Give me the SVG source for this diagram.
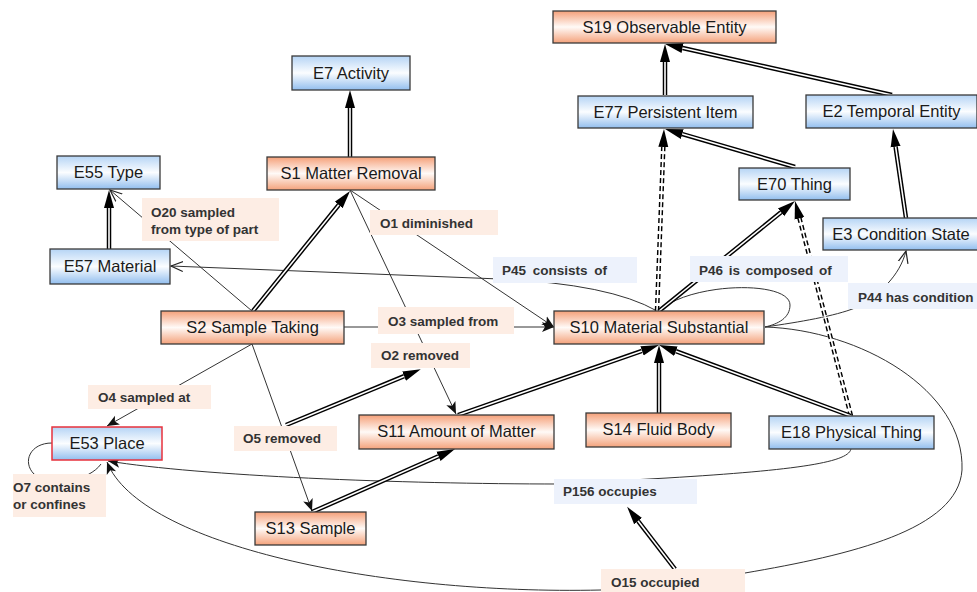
<svg xmlns="http://www.w3.org/2000/svg" width="977" height="592" viewBox="0 0 977 592">
<defs>
<linearGradient id="gBlue" x1="0" y1="0" x2="0" y2="1">
<stop offset="0" stop-color="#b5d4f5"/><stop offset="0.5" stop-color="#fbfdff"/><stop offset="1" stop-color="#92beee"/>
</linearGradient>
<linearGradient id="gOr" x1="0" y1="0" x2="0" y2="1">
<stop offset="0" stop-color="#f5a079"/><stop offset="0.5" stop-color="#fffaf7"/><stop offset="1" stop-color="#f4a27b"/>
</linearGradient>
<marker id="fa" markerUnits="userSpaceOnUse" markerWidth="20" markerHeight="12" viewBox="0 -6 20 12" refX="0" refY="0" orient="auto">
<path d="M0,-5 L18,0 L0,5 z" fill="#000"/>
</marker>
<marker id="ba" markerUnits="userSpaceOnUse" markerWidth="14" markerHeight="12" viewBox="0 -6 14 12" refX="12" refY="0" orient="auto">
<path d="M0,-5 L12,0 L0,5 L3,0 z" fill="#111"/>
</marker>
<marker id="oa" markerUnits="userSpaceOnUse" markerWidth="14" markerHeight="12" viewBox="0 -6 14 12" refX="12" refY="0" orient="auto">
<path d="M0,-5 L12,0 L0,5" fill="none" stroke="#222" stroke-width="1.2"/>
</marker>
</defs>
<style>
.nb rect{fill:url(#gBlue);stroke:#3a3a3a;stroke-width:1.3}
.no rect{fill:url(#gOr);stroke:#3a3a3a;stroke-width:1.3}
.nb text,.no text{font-family:"Liberation Sans",Arial,sans-serif;font-size:16.5px;fill:#1a1a1a;text-anchor:middle}
.lp rect{fill:#fdede4}
.lb rect{fill:#edf2fc}
.lp text,.lb text{font-family:"Liberation Sans",Arial,sans-serif;font-size:13.5px;font-weight:bold;fill:#333}
.thin{fill:none;stroke:#333;stroke-width:1}
.dbo{fill:none;stroke:#000;stroke-width:4.5}
.dbi{fill:none;stroke:#fff;stroke-width:1.6}
.dsh{fill:none;stroke:#000;stroke-width:4.5;stroke-dasharray:5 3}
</style>

<g id="connectors">
<path class="thin" d="M252,311 L110,190" marker-end="url(#oa)"/>
<path class="thin" d="M350,190 L554,327" marker-end="url(#ba)"/>
<path class="thin" d="M344,327 L554,327" marker-end="url(#ba)"/>
<path class="thin" d="M350,190 L456,414" marker-end="url(#ba)"/>
<path class="thin" d="M252,344 L107,426" marker-end="url(#ba)"/>
<path class="thin" d="M252,344 L312,511" marker-end="url(#ba)"/>
<path class="thin" d="M657,311 Q610,284 500,279 L171,266" marker-end="url(#oa)"/>
<path class="thin" d="M659,311 C690,282 790,280 790,305 C790,318 778,324 765,327"/>
<path class="thin" d="M765,327 C800,322 835,316 855,308 C880,295 900,275 906,251" marker-end="url(#oa)"/>
<path class="thin" d="M765,327 C860,330 965,390 962,470 C958,530 850,555 745,573 L640,588"/>
<path class="thin" d="M601,590 C380,595 140,545 107,462" marker-end="url(#ba)"/>
<path class="thin" d="M851,448 C851,462 800,470 667,478 L560,484 C400,484 200,476 108,461" marker-end="url(#ba)"/>
<path class="thin" d="M52,443 C30,443 22,462 34,474 C50,490 90,480 101,464"/>
<path class="dsh" d="M657,311 L663.3,147" marker-end="url(#fa)"/>
<path class="dbi" d="M657,311 L663.3,147"/>
<path class="dsh" d="M851,416 L799.5,218.4" marker-end="url(#fa)"/>
<path class="dbi" d="M851,416 L799.5,218.4"/>
<path class="dbo" d="M350,157 L350,108" marker-end="url(#fa)"/><path class="dbi" d="M350,157 L350,108"/>
<path class="dbo" d="M665,95 L665,62" marker-end="url(#fa)"/><path class="dbi" d="M665,95 L665,62"/>
<path class="dbo" d="M892,95 L682.6,48" marker-end="url(#fa)"/><path class="dbi" d="M892,95 L682.6,48"/>
<path class="dbo" d="M795,167 L682.3,134.1" marker-end="url(#fa)"/><path class="dbi" d="M795,167 L682.3,134.1"/>
<path class="dbo" d="M906,218 L895.6,146.8" marker-end="url(#fa)"/><path class="dbi" d="M906,218 L895.6,146.8"/>
<path class="dbo" d="M109,249 L109,208" marker-end="url(#fa)"/><path class="dbi" d="M109,249 L109,208"/>
<path class="dbo" d="M253,311 L338.7,205" marker-end="url(#fa)"/><path class="dbi" d="M253,311 L338.7,205"/>
<path class="dbo" d="M312,512 L438.5,456.3" marker-end="url(#fa)"/><path class="dbi" d="M312,512 L438.5,456.3"/>
<path class="dbo" d="M286,425 L404.1,376.2" marker-end="url(#fa)"/><path class="dbi" d="M286,425 L404.1,376.2"/>
<path class="dbo" d="M458,415 L642,350.9" marker-end="url(#fa)"/><path class="dbi" d="M458,415 L642,350.9"/>
<path class="dbo" d="M659,413 L659,363" marker-end="url(#fa)"/><path class="dbi" d="M659,413 L659,363"/>
<path class="dbo" d="M851,416 L675.9,351.2" marker-end="url(#fa)"/><path class="dbi" d="M851,416 L675.9,351.2"/>
<path class="dbo" d="M659,311 L781,212.3" marker-end="url(#fa)"/><path class="dbi" d="M659,311 L781,212.3"/>
<path class="dbo" d="M675,569 L638.1,521.1" marker-end="url(#fa)"/><path class="dbi" d="M675,569 L638.1,521.1"/>
</g>

<g id="lbl-O20" class="lp"><rect x="142" y="198" width="137" height="43"/><text x="151" y="217">O20 sampled</text><text x="151" y="234">from type of part</text></g>
<g id="lbl-O1" class="lp"><rect x="370" y="210" width="128" height="25"/><text x="380" y="228">O1 diminished</text></g>
<g id="lbl-P45" class="lb"><rect x="493" y="257" width="144" height="26"/><text x="502" y="275" word-spacing="3">P45 consists of</text></g>
<g id="lbl-P46" class="lb"><rect x="690" y="256" width="158" height="26"/><text x="699" y="275" word-spacing="2">P46 is composed of</text></g>
<g id="lbl-P44" class="lb"><rect x="848" y="283" width="129" height="26"/><text x="858" y="302">P44 has condition</text></g>
<g id="lbl-O3" class="lp"><rect x="378" y="307" width="136" height="27"/><text x="388" y="326">O3 sampled from</text></g>
<g id="lbl-O2" class="lp"><rect x="371" y="343" width="99" height="25"/><text x="381" y="360">O2 removed</text></g>
<g id="lbl-O4" class="lp"><rect x="88" y="385" width="123" height="24"/><text x="98" y="402">O4 sampled at</text></g>
<g id="lbl-O5" class="lp"><rect x="234" y="426" width="103" height="25"/><text x="243" y="443">O5 removed</text></g>
<g id="lbl-O7" class="lp"><rect x="13" y="474" width="93" height="43"/><text x="13" y="492">O7 contains</text><text x="13" y="509">or confines</text></g>
<g id="lbl-P156" class="lb"><rect x="554" y="479" width="143" height="25"/><text x="563" y="496">P156 occupies</text></g>
<g id="lbl-O15" class="lp"><rect x="601" y="569" width="144" height="23"/><text x="611" y="587">O15 occupied</text></g>

<g id="S19" class="no"><rect x="553" y="11" width="223" height="32"/><text x="664.5" y="33">S19 Observable Entity</text></g>
<g id="E7" class="nb"><rect x="292" y="56" width="118" height="34"/><text x="351" y="79">E7 Activity</text></g>
<g id="E77" class="nb"><rect x="578" y="96" width="175" height="32"/><text x="665.5" y="118">E77 Persistent Item</text></g>
<g id="E2" class="nb"><rect x="806" y="95" width="171" height="33"/><text x="891.5" y="117">E2 Temporal Entity</text></g>
<g id="E55" class="nb"><rect x="57" y="156" width="103" height="33"/><text x="108.5" y="178">E55 Type</text></g>
<g id="S1" class="no"><rect x="267" y="157" width="168" height="33"/><text x="351" y="179">S1 Matter Removal</text></g>
<g id="E70" class="nb"><rect x="739" y="168" width="111" height="32"/><text x="794.5" y="190">E70 Thing</text></g>
<g id="E3" class="nb"><rect x="823" y="218" width="160" height="32"/><text x="901" y="240">E3 Condition State</text></g>
<g id="E57" class="nb"><rect x="50" y="249" width="120" height="35"/><text x="110" y="272">E57 Material</text></g>
<g id="S2" class="no"><rect x="161" y="311" width="183" height="33"/><text x="252.5" y="333">S2 Sample Taking</text></g>
<g id="S10" class="no"><rect x="554" y="311" width="210" height="33"/><text x="659" y="333">S10 Material Substantial</text></g>
<g id="E53" class="nb"><rect x="52" y="427" width="110" height="33" style="stroke:#e8323c;stroke-width:1.5"/><text x="107" y="449">E53 Place</text></g>
<g id="S11" class="no"><rect x="359" y="415" width="195" height="34"/><text x="456.5" y="437">S11 Amount of Matter</text></g>
<g id="S14" class="no"><rect x="586" y="413" width="145" height="34"/><text x="658.5" y="435">S14 Fluid Body</text></g>
<g id="E18" class="nb"><rect x="769" y="416" width="165" height="33"/><text x="851.5" y="438">E18 Physical Thing</text></g>
<g id="S13" class="no"><rect x="255" y="512" width="111" height="33"/><text x="310.5" y="534">S13 Sample</text></g>
</svg>
